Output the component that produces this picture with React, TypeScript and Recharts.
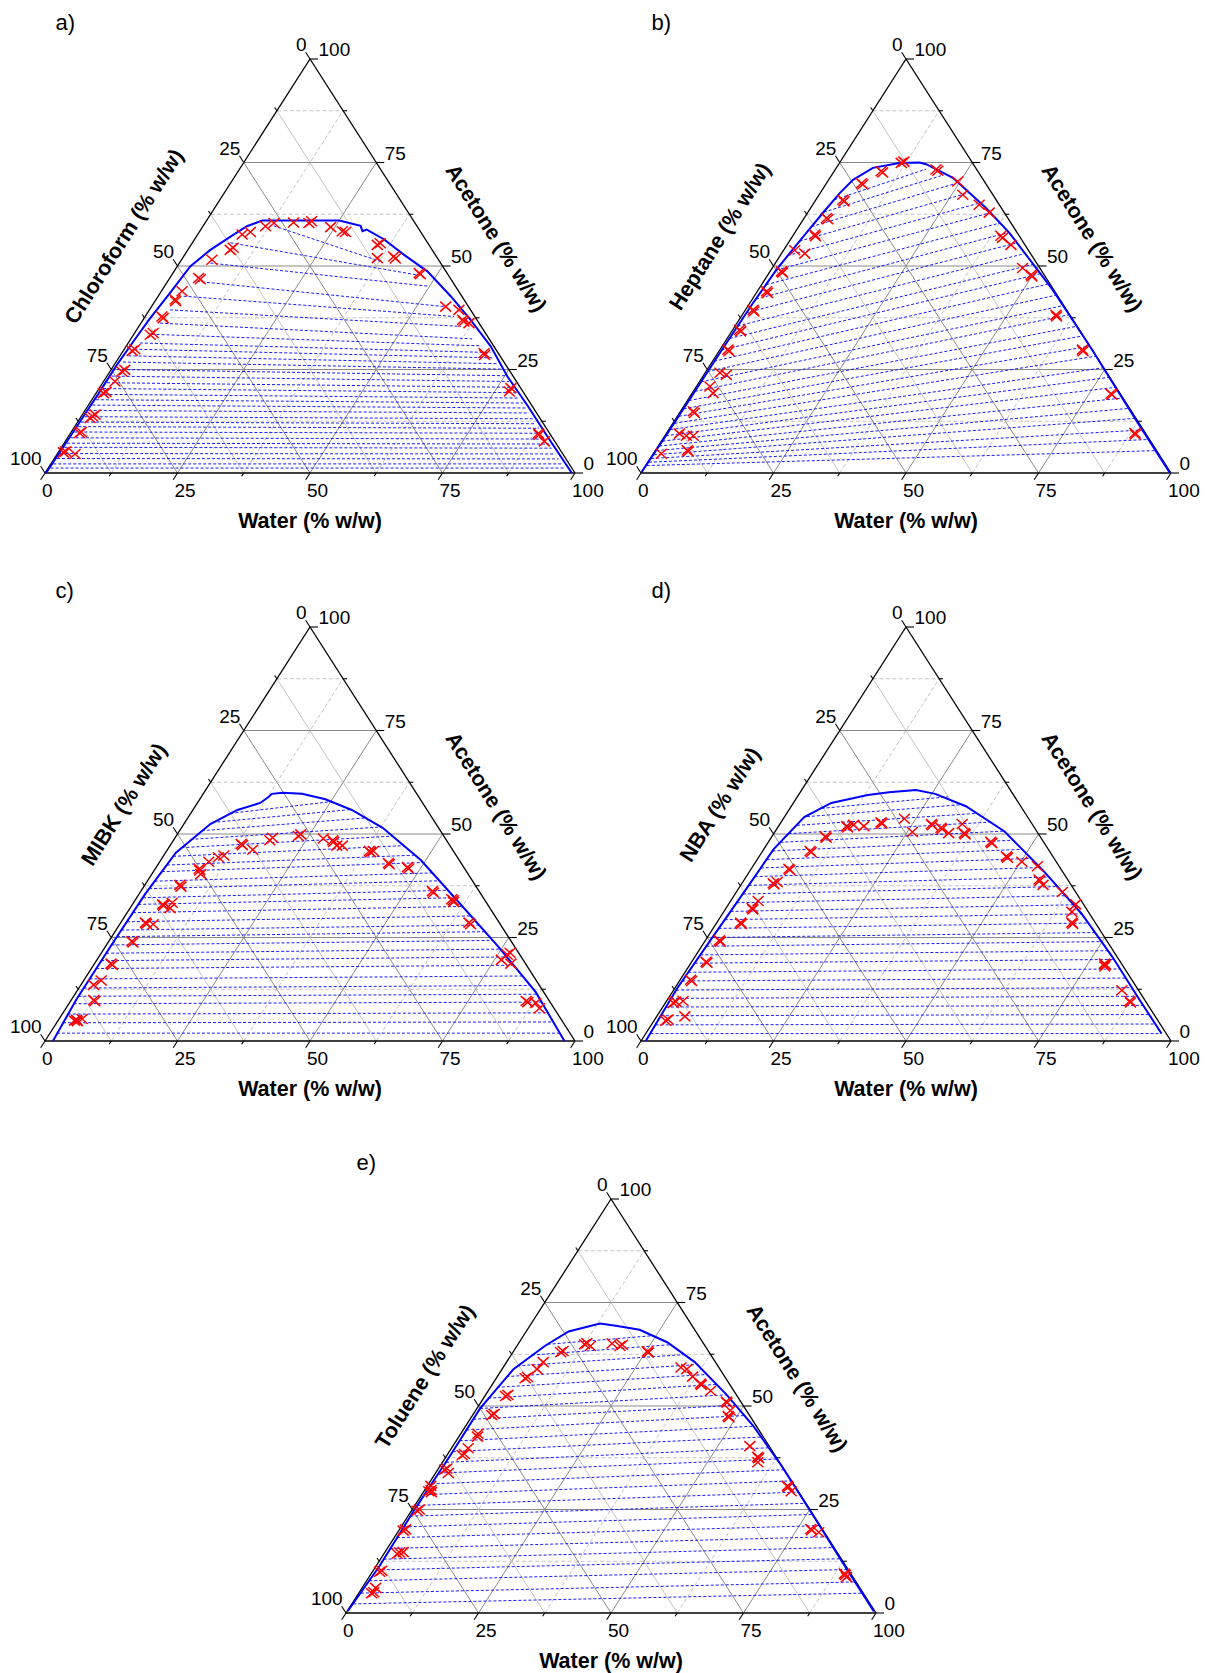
import React from "react";
import { ScatterChart, Scatter, XAxis, YAxis, ReferenceLine } from "recharts";

// [water %, acetone %]; solvent is the rest
type Pt = [number, number];
// tie line: [water, acetone] at the solvent-rich end, then [water, acetone] at the water-rich end
type Tie = [number, number, number, number];

// ---------- a) chloroform ----------
const binodalA: Pt[] = [
  [0.2, 0], [0.3, 5], [0.4, 12], [0.5, 19], [0.5, 26], [0.8, 32], [1.15, 37.4], [1.85, 43.5],
  [2.45, 49.9], [4.25, 53.9], [6.45, 57.1], [8.3, 59.6], [10.5, 61.0], [25.0, 61.0], [29.7, 59.7],
  [30.7, 58.4], [31.3, 58.8], [35.8, 56.4], [41.4, 52.7], [47.8, 48.7], [55.2, 42.7], [61.8, 37.0],
  [68.8, 30.6], [75.6, 23.3], [83.0, 16.2], [90.2, 9.0], [99.4, 0],
];
const markersA: Pt[] = [
  [3.15, 33.4], [3.5, 33.8], [3.16, 37.8], [3.6, 37.4], [3.6, 41.9], [3.9, 41.5], [3.9, 43.9],
  [5.43, 47.1], [5.9, 46.8], [5.75, 51.5], [8.0, 53.9], [8.3, 54.4], [8.4, 57.6], [9.65, 58.2],
  [11.8, 59.6], [13.0, 60.4], [16.65, 60.5], [19.6, 60.4], [19.9, 60.8], [24.2, 59.4], [26.9, 58.4],
  [27.6, 58.2], [35.15, 55.1], [35.5, 55.5], [36.75, 51.9], [39.65, 52.3], [40.2, 51.8], [46.45, 48.3],
  [46.8, 48.0], [55.5, 40.2], [58.4, 39.4], [60.3, 37.0], [60.7, 36.6], [61.9, 36.2], [68.35, 29.0],
  [68.7, 28.5], [77.75, 19.7], [77.65, 20.5], [88.6, 9.25], [88.3, 9.6], [90.4, 7.64], [1.7, 29.5],
  [2.0, 29.9], [2.25, 24.5], [2.6, 24.9], [2.15, 22.1], [1.35, 19.3], [1.7, 19.6], [1.85, 13.3],
  [2.1, 13.7], [2.4, 14.1], [1.67, 9.66], [1.9, 9.9], [0.97, 4.98], [1.3, 5.2], [3.37, 4.59],
];
const tieA: Tie[] = [
  [13.3, 59.7, 37.75, 51.1], [7.2, 55.6, 46.0, 47.9], [5.85, 50.7, 49.9, 45.1], [5.5, 46.3, 55.2, 40.2],
  [4.8, 42.7, 58.3, 37.8], [3.9, 39.4, 60.75, 35.4], [3.6, 36.2, 64.4, 32.4], [3.35, 33.5, 67.0, 30.7],
  [2.2, 31.4, 69.5, 29.1], [1.9, 29.9, 70.8, 27.8], [1.6, 28.3, 72.2, 26.4], [1.3, 26.8, 73.5, 25.1],
  [1.1, 25.0, 75.1, 23.5], [0.9, 23.4, 76.5, 22.1], [0.8, 21.8, 77.9, 20.7], [0.8, 20.4, 79.2, 19.4],
  [0.8, 19.0, 80.5, 18.1], [0.75, 17.7, 81.7, 16.9], [0.75, 16.4, 82.9, 15.7], [0.7, 15.1, 84.1, 14.5],
  [0.7, 13.6, 85.5, 13.1], [0.65, 12.3, 86.7, 11.9], [0.65, 11.2, 87.8, 10.8], [0.6, 9.9, 89.0, 9.6],
  [0.6, 8.5, 90.4, 8.2], [0.55, 7.2, 91.6, 7.0], [0.55, 6.2, 92.6, 6.0], [0.5, 4.7, 94.0, 4.6],
  [0.5, 3.5, 95.2, 3.4], [0.45, 2.2, 96.4, 2.2], [0.45, 1.2, 97.4, 1.2],
];

// ---------- b) heptane ----------
const binodalB: Pt[] = [
  [0, 0], [0.2, 10], [0.3, 20], [0.4, 30], [0.6, 41], [1.0, 49], [1.5, 53], [2.2, 58], [2.9, 62.8],
  [3.7, 67.6], [4.6, 70.8], [6.9, 73.7], [11.3, 74.9], [15.0, 75.0], [16.5, 74.6], [23.2, 71.3],
  [33.1, 64.0], [40.5, 58.0], [48.5, 50.7], [55.5, 44.3], [62.9, 37.0], [70.3, 29.7], [76.6, 23.3],
  [88.0, 11.8], [99.8, 0],
];
const markersB: Pt[] = [
  [11.65, 74.9], [12.0, 75.2], [8.85, 72.9], [9.3, 72.6], [6.6, 70.0], [7.0, 69.7], [5.1, 66.0],
  [5.5, 65.6], [4.2, 61.6], [4.6, 61.3], [4.0, 57.6], [4.3, 57.2], [2.1, 53.8], [4.4, 53.0],
  [2.15, 48.7], [2.5, 48.4], [1.75, 43.9], [2.1, 43.5], [1.45, 39.4], [1.8, 39.0], [1.3, 34.6],
  [1.7, 34.2], [1.5, 29.8], [1.9, 29.4], [2.8, 24.2], [4.25, 23.7], [2.55, 20.9], [3.95, 19.3],
  [2.4, 14.9], [2.8, 14.5], [2.5, 9.5], [4.07, 9.0], [5.37, 9.0], [1.5, 4.66], [6.3, 5.2], [6.0, 5.5],
  [19.0, 73.3], [19.5, 73.0], [24.55, 70.4], [27.1, 67.2], [31.4, 64.8], [34.25, 62.9], [39.25, 57.3],
  [39.8, 56.8], [42.25, 55.1], [47.25, 49.5], [49.65, 47.9], [50.0, 47.5], [59.2, 38.2], [59.5, 37.8],
  [68.4, 29.8], [68.7, 29.4], [79.1, 19.15], [79.4, 18.9], [88.37, 9.66], [88.6, 9.3],
];
const tieB: Tie[] = [
  [0.2, 1.8, 94.4, 5.4], [0.2, 2.6, 91.7, 8.1], [0.2, 3.5, 89.4, 10.4], [0.2, 4.4, 86.6, 13.2],
  [0.2, 5.4, 84.2, 15.6], [0.2, 6.5, 81.7, 18.1], [0.2, 7.7, 79.1, 20.7], [0.2, 9.0, 76.7, 23.1],
  [0.3, 10.5, 74.4, 25.4], [0.3, 12.0, 71.6, 28.2], [0.3, 13.7, 69.2, 30.6], [0.3, 15.5, 66.7, 33.1],
  [0.3, 17.5, 64.4, 35.4], [0.3, 19.7, 61.6, 38.2], [0.3, 22.0, 59.3, 40.4], [0.3, 24.5, 56.7, 42.9],
  [0.3, 27.0, 53.9, 45.6], [0.35, 29.7, 51.2, 48.1], [0.5, 32.5, 48.8, 50.4], [0.5, 35.5, 45.9, 53.0],
  [0.5, 38.7, 43.1, 55.6], [0.7, 42.0, 40.3, 58.1], [0.9, 45.5, 37.6, 60.4], [1.0, 49.0, 34.6, 62.9],
  [1.4, 52.5, 31.5, 65.3], [1.9, 56.0, 28.0, 67.7], [2.4, 59.5, 24.3, 69.9], [3.0, 63.0, 20.7, 71.8],
  [3.5, 66.0, 17.1, 73.4],
];

// ---------- c) MIBK ----------
const binodalC: Pt[] = [
  [1.5, 0], [0.9, 10.1], [0.95, 23.0], [1.15, 35.6], [1.95, 45.5], [5.0, 52.4], [8.4, 55.8],
  [11.85, 57.5], [12.65, 58.8], [12.95, 59.7], [14.9, 59.95], [18.65, 59.7], [23.7, 58.4], [30.0, 55.8],
  [37.95, 51.5], [49.05, 43.7], [61.45, 33.4], [73.9, 23.0], [86.7, 11.8], [98.0, 0],
];
const markersC: Pt[] = [
  [3.1, 4.93], [3.4, 5.1], [3.7, 4.8], [4.35, 5.3], [4.25, 9.9], [4.6, 9.6], [2.4, 13.55], [3.3, 14.6],
  [3.1, 18.7], [3.5, 18.4], [4.35, 24.1], [4.7, 23.8], [4.65, 28.6], [5.0, 28.3], [6.3, 28.2],
  [5.7, 33.0], [6.0, 32.7], [7.3, 33.4], [7.55, 32.1], [6.6, 37.7], [7.0, 37.3], [8.3, 41.6],
  [8.6, 41.2], [9.25, 40.3], [9.25, 43.3], [10.5, 44.4], [11.35, 44.8], [13.2, 47.6], [13.6, 47.3],
  [16.1, 46.2], [18.15, 48.5], [18.4, 49.1], [23.05, 49.5], [23.3, 49.9], [28.05, 48.9], [30.05, 48.5],
  [30.4, 48.1], [31.45, 47.2], [32.5, 47.2], [38.25, 45.9], [38.6, 45.6], [39.0, 45.9], [43.3, 43.0],
  [43.6, 42.7], [47.4, 42.0], [47.8, 41.6], [55.0, 36.2], [55.4, 35.8], [59.6, 34.25], [60.0, 34.0],
  [60.3, 33.6], [65.7, 28.6], [66.2, 28.2], [76.3, 19.6], [76.75, 20.9], [77.1, 21.3], [78.55, 18.7],
  [85.95, 9.66], [86.4, 9.4], [88.0, 9.2], [89.35, 7.9],
];
const tieC: Tie[] = [
  [1.3, 1.9, 96.1, 1.9], [1.2, 4.4, 93.5, 4.6], [1.05, 6.5, 91.4, 6.8], [0.9, 9.0, 89.0, 9.4],
  [0.9, 10.8, 87.0, 11.3], [0.9, 12.8, 84.7, 13.4], [0.9, 15.0, 82.2, 15.7], [0.9, 17.5, 79.3, 18.3],
  [0.9, 19.4, 77.0, 20.3], [0.95, 21.2, 74.8, 22.2], [0.95, 23.2, 72.3, 24.3], [1.0, 25.2, 69.8, 26.4],
  [1.0, 26.8, 67.9, 28.0], [1.05, 28.8, 65.3, 30.2], [1.1, 31.0, 62.5, 32.5], [1.1, 33.0, 60.0, 34.6],
  [1.15, 34.6, 57.8, 36.4], [1.25, 36.8, 55.0, 38.7], [1.4, 38.6, 52.8, 40.6], [1.6, 40.9, 49.7, 43.1],
  [1.75, 42.5, 47.5, 44.9], [1.85, 44.6, 44.3, 47.2], [2.4, 46.7, 41.0, 49.5], [3.1, 48.7, 37.6, 51.7],
  [4.2, 50.8, 33.7, 53.9], [5.2, 52.8, 29.7, 55.9], [7.5, 55.0, 25.6, 57.9],
];

// ---------- d) NBA ----------
const binodalD: Pt[] = [
  [0.9, 0], [0.45, 12.7], [0.95, 24.8], [1.5, 36.8], [1.85, 46.3], [3.75, 54.1], [7.15, 57.5],
  [13.1, 59.4], [16.75, 60.1], [21.6, 60.6], [25.65, 59.7], [32.95, 56.7], [43.3, 50.6], [55.25, 41.2],
  [67.7, 30.8], [78.7, 20.4], [88.95, 10.1], [97.3, 1.8],
];
const markersD: Pt[] = [
  [2.2, 4.9], [2.5, 5.2], [5.3, 5.95], [1.5, 9.2], [1.8, 9.5], [3.1, 9.66], [1.95, 14.8], [2.3, 14.5],
  [2.7, 19.15], [3.0, 18.9], [2.65, 24.3], [2.95, 24.0], [4.5, 28.6], [4.8, 28.3], [4.9, 32.1],
  [5.2, 31.8], [5.2, 33.8], [5.9, 38.1], [6.2, 37.8], [6.5, 38.4], [7.1, 41.6], [7.4, 41.3],
  [8.95, 45.9], [9.3, 45.6], [10.1, 49.4], [10.4, 49.1], [12.85, 51.9], [13.2, 51.6], [14.0, 52.2],
  [16.1, 51.9], [18.9, 52.8], [19.2, 52.5], [22.85, 53.7], [25.95, 50.5], [28.6, 52.4], [28.9, 52.1],
  [30.85, 51.5], [31.2, 51.2], [32.95, 50.2], [34.4, 52.4], [35.9, 50.2], [36.2, 49.9], [41.95, 48.1],
  [42.3, 47.8], [46.65, 44.6], [47.0, 44.3], [50.2, 43.3], [53.7, 42.2], [55.6, 39.0], [55.9, 38.7],
  [57.0, 37.7], [61.5, 36.0], [65.5, 33.0], [65.7, 31.2], [67.0, 28.6], [67.3, 28.3], [78.1, 18.7],
  [78.4, 18.4], [78.5, 18.0], [84.6, 12.25], [87.4, 9.66], [87.7, 9.3],
];
const tieD: Tie[] = [
  [0.9, 1.8, 97.3, 1.8], [0.8, 3.9, 95.0, 4.1], [0.7, 6.1, 92.7, 6.4], [0.6, 8.2, 90.45, 8.6],
  [0.5, 10.3, 88.25, 10.8], [0.5, 12.3, 86.15, 12.9], [0.55, 14.5, 83.9, 15.2], [0.65, 16.6, 81.7, 17.4],
  [0.75, 18.8, 79.4, 19.7], [0.8, 20.8, 77.2, 21.8], [0.9, 22.9, 74.9, 24.0], [0.95, 25.0, 72.5, 26.2],
  [1.05, 27.2, 70.1, 28.5], [1.15, 29.3, 67.8, 30.7], [1.25, 31.3, 65.2, 32.9], [1.35, 33.4, 62.6, 35.1],
  [1.45, 35.5, 60.0, 37.3], [1.55, 37.6, 57.2, 39.6], [1.6, 39.7, 54.4, 41.9], [1.7, 41.8, 51.6, 44.1],
  [1.8, 43.8, 48.8, 46.3], [1.85, 45.9, 46.0, 48.5], [2.3, 48.0, 43.2, 50.7], [2.8, 50.1, 39.7, 52.9],
  [3.4, 52.1, 36.0, 55.0], [4.2, 54.2, 32.1, 57.1], [6.0, 56.2, 28.4, 59.0],
];

// ---------- e) toluene ----------
const binodalE: Pt[] = [
  [0.1, 0.5], [0.65, 11.3], [0.45, 25.1], [0.65, 38.1], [0.6, 49.35], [2.15, 58.9], [5.25, 64.5],
  [8.0, 68.0], [12.95, 69.95], [16.2, 69.4], [21.2, 68.4], [27.9, 65.4], [35.5, 60.6], [45.35, 52.8],
  [54.45, 45.0], [64.45, 35.5], [74.85, 25.1], [86.8, 13.0], [99.4, 0.4],
];
const markersE: Pt[] = [
  [2.45, 4.76], [2.75, 5.0], [2.55, 6.06], [1.35, 9.96], [1.65, 10.2], [2.5, 14.3], [2.8, 14.6],
  [3.45, 14.7], [0.85, 19.9], [1.15, 20.2], [1.05, 24.7], [1.35, 25.0], [0.9, 29.4], [1.2, 29.7],
  [1.5, 29.2], [0.65, 30.7], [1.3, 34.6], [1.6, 34.9], [2.4, 33.8], [2.85, 38.1], [3.15, 38.4],
  [3.15, 39.8], [3.25, 43.3], [3.5, 42.6], [3.6, 47.8], [3.9, 48.1], [3.9, 52.4], [4.2, 52.7],
  [5.45, 56.7], [5.75, 57.0], [6.6, 58.9], [6.9, 60.6], [9.0, 63.0], [9.3, 63.3], [12.55, 64.9],
  [12.85, 65.2], [13.85, 64.5], [17.65, 65.1], [19.45, 64.5], [19.75, 64.8], [25.3, 63.2], [25.6, 62.9],
  [33.55, 59.3], [34.85, 58.9], [36.85, 57.1], [39.2, 55.4], [39.5, 55.1], [41.95, 53.7], [46.2, 51.1],
  [46.5, 50.8], [48.3, 47.6], [48.6, 47.3], [48.05, 48.9], [56.05, 40.3], [58.85, 37.7], [59.15, 37.4],
  [59.5, 36.4], [67.95, 30.7], [68.25, 30.4], [69.3, 29.4], [77.55, 20.3], [77.85, 20.0], [79.45, 19.5],
  [89.3, 9.5], [89.6, 9.2], [90.1, 8.66],
];
const tieE: Tie[] = [
  [0.3, 2.2, 95.0, 4.8], [0.4, 4.8, 92.3, 7.5], [0.5, 7.8, 89.3, 10.5], [0.6, 10.4, 86.7, 13.1],
  [0.6, 13.0, 84.0, 15.8], [0.55, 15.6, 81.4, 18.4], [0.5, 18.2, 78.7, 21.1], [0.5, 20.8, 76.0, 23.8],
  [0.45, 23.4, 73.4, 26.5], [0.5, 26.0, 70.7, 29.2], [0.5, 28.6, 68.0, 31.9], [0.55, 31.2, 65.3, 34.6],
  [0.6, 33.8, 62.6, 37.2], [0.65, 36.4, 59.7, 39.9], [0.65, 39.0, 57.0, 42.5], [0.65, 41.6, 54.3, 45.1],
  [0.6, 44.2, 51.4, 47.7], [0.6, 46.8, 48.5, 50.2], [0.6, 49.4, 45.4, 52.7], [0.9, 51.9, 42.2, 55.2],
  [1.2, 54.5, 39.1, 57.6], [1.7, 57.1, 36.2, 60.0], [2.5, 59.7, 32.4, 62.4], [3.9, 62.3, 28.7, 64.8],
  [5.6, 64.9, 24.5, 67.0],
];

// ---------- axes ----------
const GRID_LEVELS = [12.5, 25, 37.5, 50, 62.5, 75, 87.5];
const TICK_LEVELS = [0, 12.5, 25, 37.5, 50, 62.5, 75, 87.5, 100];
const TICK_LABELS = [0, 25, 50, 75, 100];

type Panel = {
  tag: string;
  solvent: string;
  left: number;
  base: number;
  binodal: Pt[];
  markers: Pt[];
  ties: Tie[];
};

const PANELS: Panel[] = [
  { tag: "a)", solvent: "Chloroform", left: 45, base: 473.3, binodal: binodalA, markers: markersA, ties: tieA },
  { tag: "b)", solvent: "Heptane", left: 640.5, base: 473.3, binodal: binodalB, markers: markersB, ties: tieB },
  { tag: "c)", solvent: "MIBK", left: 45, base: 1041.1, binodal: binodalC, markers: markersC, ties: tieC },
  { tag: "d)", solvent: "NBA", left: 640.5, base: 1041.1, binodal: binodalD, markers: markersD, ties: tieD },
  { tag: "e)", solvent: "Toluene", left: 345.5, base: 1612.6, binodal: binodalE, markers: markersE, ties: tieE },
];

const TRI_W = 530;
const TRI_H = 414;
const M = { top: 60, right: 40, bottom: 75, left: 45 };
const CW = TRI_W + M.left + M.right;
const CH = TRI_H + M.top + M.bottom;

const BLUE = "#0000ff";
const RED = "#ff0000";
const MAJOR = "#8a8a8a";
const MINOR = "#c4c4c4";
const FONT = "Arial, 'Liberation Sans', Helvetica, sans-serif";

// ternary (water, acetone) -> plot coords; triangle is (0,0) (100,0) (50,100)
const xy = (w: number, a: number) => ({ x: w + a / 2, y: a });

function Cross(props: any) {
  const { cx, cy } = props;
  if (typeof cx !== "number" || typeof cy !== "number") return <g />;
  const rx = 5.5;
  const ry = 5;
  return (
    <path
      d={`M${cx - rx},${cy - ry}L${cx + rx},${cy + ry}M${cx - rx},${cy + ry}L${cx + rx},${cy - ry}`}
      stroke={RED}
      strokeWidth={1.5}
      fill="none"
    />
  );
}

const NoDot = () => <g />;

function Ternary({ p }: { p: Panel }) {
  const ox = p.left - M.left;
  const oy = p.base - TRI_H - M.top;
  // local pixel position (for text only)
  const loc = (X: number, Y: number) => [M.left + (X / 100) * TRI_W, M.top + ((100 - Y) / 100) * TRI_H];

  const grid: { a: { x: number; y: number }; b: { x: number; y: number }; major: boolean; dash: boolean }[] = [];
  GRID_LEVELS.forEach((v) => {
    const major = v % 25 === 0;
    // constant acetone
    grid.push({ a: { x: v / 2, y: v }, b: { x: 100 - v / 2, y: v }, major, dash: !major });
    // constant water
    grid.push({ a: { x: v, y: 0 }, b: { x: 50 + v / 2, y: 100 - v }, major, dash: !major });
    // constant solvent
    grid.push({ a: { x: 100 - v, y: 0 }, b: { x: (100 - v) / 2, y: 100 - v }, major, dash: false });
  });

  const ticks: { a: { x: number; y: number }; b: { x: number; y: number } }[] = [];
  TICK_LEVELS.forEach((v) => {
    const major = v % 25 === 0;
    const t = major ? 1.63 : 0.8;
    const h = major ? 1.51 : 0.75;
    ticks.push({ a: { x: v, y: 0 }, b: { x: v - t / 2, y: -t } });
    ticks.push({ a: { x: 100 - v / 2, y: v }, b: { x: 100 - v / 2 + h, y: v } });
    const ac = 100 - v;
    ticks.push({ a: { x: ac / 2, y: ac }, b: { x: ac / 2 - t / 2, y: ac + t } });
  });

  const edges = [
    [{ x: 0, y: 0 }, { x: 100, y: 0 }],
    [{ x: 100, y: 0 }, { x: 50, y: 100 }],
    [{ x: 50, y: 100 }, { x: 0, y: 0 }],
  ];

  const tickText = { fontFamily: FONT, fontSize: 19, fill: "#000" };
  const titleText = { fontFamily: FONT, fontSize: 21.5, fontWeight: 700, fill: "#000" };
  const lt = [M.left + 79, M.top + TRI_H - 236.5];
  const rt = [M.left + 451, M.top + TRI_H - 235];

  return (
    <div style={{ position: "absolute", left: ox, top: oy, width: CW, height: CH }}>
      <ScatterChart width={CW} height={CH} margin={M}>
        <XAxis type="number" dataKey="x" domain={[0, 100]} hide allowDataOverflow />
        <YAxis type="number" dataKey="y" domain={[0, 100]} hide allowDataOverflow />
        {grid.map((g, i) => (
          <ReferenceLine
            key={`g${i}`}
            segment={[g.a, g.b]}
            stroke={g.major ? MAJOR : MINOR}
            strokeWidth={1}
            strokeDasharray={g.dash ? "4 2.5" : undefined}
            ifOverflow="visible"
          />
        ))}
        {edges.map((e, i) => (
          <ReferenceLine key={`e${i}`} segment={e} stroke="#000" strokeWidth={1.3} ifOverflow="visible" />
        ))}
        {ticks.map((t, i) => (
          <ReferenceLine key={`t${i}`} segment={[t.a, t.b]} stroke="#000" strokeWidth={1.1} ifOverflow="visible" />
        ))}
        {p.ties.map((t, i) => (
          <ReferenceLine
            key={`tie${i}`}
            segment={[xy(t[0], t[1]), xy(t[2], t[3])]}
            stroke={BLUE}
            strokeWidth={0.9}
            strokeDasharray="3 2"
            ifOverflow="visible"
          />
        ))}
        <Scatter
          data={p.binodal.map(([w, a]) => xy(w, a))}
          line={{ stroke: BLUE, strokeWidth: 2 }}
          lineType="joint"
          shape={NoDot}
          isAnimationActive={false}
        />
        <Scatter data={p.markers.map(([w, a]) => xy(w, a))} shape={<Cross />} isAnimationActive={false} />
      </ScatterChart>
      <svg
        width={CW}
        height={CH}
        style={{ position: "absolute", left: 0, top: 0, overflow: "visible", pointerEvents: "none" }}
      >
        <text x={M.left + 10.5} y={M.top + TRI_H - 442.8} fontFamily={FONT} fontSize={22} fill="#000">
          {p.tag}
        </text>
        {TICK_LABELS.map((v) => {
          const [x, y] = loc(v, 0);
          return (
            <text key={`b${v}`} x={x - 3} y={y + 23.6} {...tickText} textAnchor="start">
              {v}
            </text>
          );
        })}
        {TICK_LABELS.map((v) => {
          const [x, y] = loc(100 - v / 2, v);
          return (
            <text key={`r${v}`} x={x + 8.5} y={y - 3} {...tickText} textAnchor="start">
              {v}
            </text>
          );
        })}
        {TICK_LABELS.map((v) => {
          const ac = 100 - v;
          const [x, y] = loc(ac / 2, ac);
          return (
            <text key={`l${v}`} x={x - 3.3} y={y - 8} {...tickText} textAnchor="end">
              {v}
            </text>
          );
        })}
        <text
          x={M.left + TRI_W / 2}
          y={M.top + TRI_H + 48}
          {...titleText}
          textAnchor="middle"
          dominantBaseline="central"
        >
          Water (% w/w)
        </text>
        <text
          x={lt[0]}
          y={lt[1]}
          {...titleText}
          textAnchor="middle"
          dominantBaseline="central"
          transform={`rotate(-57.6 ${lt[0]} ${lt[1]})`}
        >
          {`${p.solvent} (% w/w)`}
        </text>
        <text
          x={rt[0]}
          y={rt[1]}
          {...titleText}
          textAnchor="middle"
          dominantBaseline="central"
          transform={`rotate(57.8 ${rt[0]} ${rt[1]})`}
        >
          Acetone (% w/w)
        </text>
      </svg>
    </div>
  );
}

export default function App() {
  return (
    <div
      style={{
        position: "absolute",
        left: 0,
        top: 0,
        width: 1205,
        height: 1673,
        overflow: "hidden",
        background: "#fff",
      }}
    >
      {PANELS.map((p) => (
        <Ternary key={p.tag} p={p} />
      ))}
    </div>
  );
}
